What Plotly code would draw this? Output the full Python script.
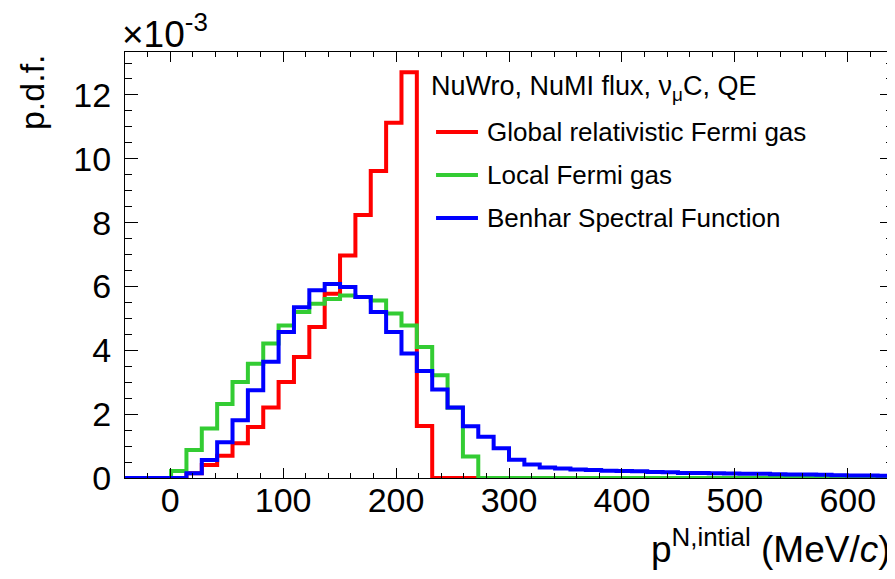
import numpy as np
import plotly.graph_objects as go

# ---- data (p.d.f. in units of 1e-3) ----
BIN_LO, BIN_HI, N_BINS = -40.0, 640.0, 50
edges = np.linspace(BIN_LO, BIN_HI, N_BINS + 1)

header_text = "NuWro, NuMI flux, ν<sub>μ</sub>C, QE"
series_names = ["Global relativistic Fermi gas", "Local Fermi gas", "Benhar Spectral Function"]

red_rfg = [0, 0, 0, 0,
           0.15, 0.41, 0.70, 1.09, 1.60, 2.21, 3.01, 3.79, 4.73, 5.77,
           6.97, 8.24, 9.62, 11.13, 12.71, 1.63] + [0] * 30

green_lfg = [0, 0, 0,
             0.22, 0.875, 1.55, 2.32, 3.01, 3.58, 4.21, 4.78, 5.20, 5.46,
             5.61, 5.72, 5.67, 5.56, 5.15, 4.78, 4.10, 3.22, 2.20, 0.67] + [0] * 27

blue_sf = [0, 0, 0, 0,
           0.15, 0.56, 1.12, 1.81, 2.75, 3.64, 4.57, 5.35, 5.88, 6.08,
           5.98, 5.67, 5.20, 4.57, 3.90, 3.35, 2.77, 2.21, 1.62, 1.29, 0.93,
           0.57, 0.42, 0.33, 0.30, 0.27, 0.25, 0.23, 0.22, 0.21, 0.19,
           0.18, 0.16, 0.16, 0.15, 0.14, 0.13, 0.13, 0.12, 0.11, 0.11,
           0.10, 0.09, 0.08, 0.08, 0.07]

x_tickvals = [0, 100, 200, 300, 400, 500, 600]
y_tickvals = [0, 2, 4, 6, 8, 10, 12]

colors = ["#ff0000", "#33cc33", "#0000ff"]
FONT = "Liberation Sans, Arial, sans-serif"

fig = go.Figure()
for name, vals, col in zip(series_names, [red_rfg, green_lfg, blue_sf], colors):
    yv = list(vals) + [vals[-1]]
    fig.add_trace(go.Scatter(
        x=edges, y=yv, mode="lines", line=dict(color=col, width=4, shape="hv"),
        name=name, showlegend=False, hoverinfo="skip"))

ymax = 1.05 * max(red_rfg)

axis_common = dict(
    showline=True, linecolor="black", linewidth=1, mirror="allticks",
    ticks="inside", tickcolor="black", tickwidth=1,
    showgrid=False, zeroline=False, automargin=False,
    tickfont=dict(family=FONT, size=34, color="black"),
)

# manual ROOT-style legend (paper coordinates)
leg_line_x = (0.405, 0.4596)
leg_text_x = 0.4688
leg_rows_y = [0.8122, 0.7113, 0.6103]
annotations = [
    dict(text=header_text, xref="paper", yref="paper", x=0.3958, y=0.9155,
         xanchor="left", yanchor="middle", showarrow=False,
         font=dict(family=FONT, size=27, color="black")),
]
shapes = []
for name, col, yy in zip(series_names, colors, leg_rows_y):
    annotations.append(dict(text=name, xref="paper", yref="paper", x=leg_text_x, y=yy,
                            xanchor="left", yanchor="middle", showarrow=False,
                            font=dict(family=FONT, size=26, color="black")))
    shapes.append(dict(type="line", xref="paper", yref="paper",
                       x0=leg_line_x[0], x1=leg_line_x[1], y0=yy, y1=yy,
                       line=dict(color=col, width=4)))

annotations += [
    dict(text="p.d.f.", xref="paper", yref="paper", x=-0.121, y=1.0,
         xanchor="center", yanchor="top", textangle=-90, showarrow=False,
         font=dict(family=FONT, size=34, color="black")),
    dict(text="p<sup>N,intial</sup> (MeV/<i>c</i>)", xref="paper", yref="paper",
         x=1.0, y=-0.160, xanchor="right", yanchor="middle", showarrow=False,
         font=dict(family=FONT, size=37, color="black")),
    dict(text="×10<sup>-3</sup>", xref="paper", yref="paper",
         x=-0.006, y=1.0, xanchor="left", yanchor="bottom", yshift=-5, showarrow=False,
         font=dict(family=FONT, size=37, color="black")),
]

# page body has an 8px default margin -> figure is 8px smaller, offsets reduced by 8
fig.update_layout(
    width=887, height=571,
    margin=dict(l=117, r=2, t=44, b=101),
    paper_bgcolor="white", plot_bgcolor="white",
    showlegend=False,
    xaxis=dict(range=[BIN_LO, BIN_HI], tickvals=x_tickvals,
               ticklen=10, ticklabelstandoff=-8,
               minor=dict(dtick=20, ticklen=5, ticks="inside", tickcolor="black"),
               **axis_common),
    yaxis=dict(range=[0, ymax], tickvals=y_tickvals,
               ticklen=13, ticklabelstandoff=6,
               minor=dict(dtick=0.5, ticklen=7, ticks="inside", tickcolor="black"),
               **axis_common),
    annotations=annotations,
    shapes=shapes,
)

fig.write_html("out.html")
